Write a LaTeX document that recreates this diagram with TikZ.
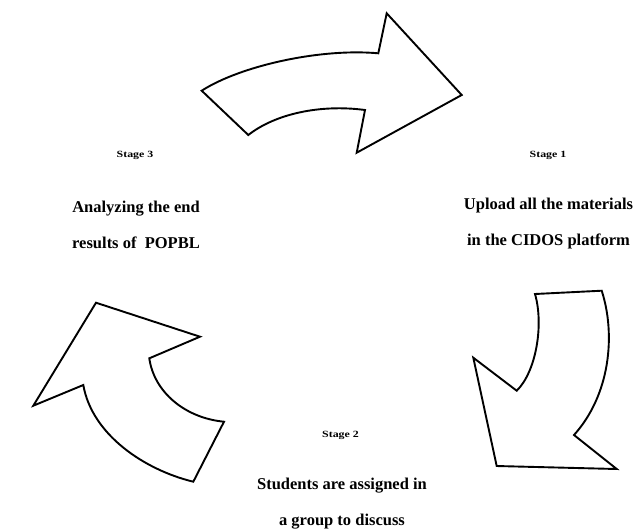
\documentclass[tikz,border=0pt]{standalone}
\usepackage{fontspec}
\setmainfont{Liberation Serif}
\begin{document}
\begin{tikzpicture}[x=1pt,y=-1pt,
  bigarrow/.style={draw=black,fill=white,line width=1.9pt,line join=miter},
  stagelabel/.style={inner sep=0pt,font=\bfseries\fontsize{9.5}{10}\selectfont},
  steptext/.style={inner sep=0pt,align=center,font=\bfseries\fontsize{16.5}{36}\selectfont}]
\useasboundingbox[fill=white] (0,0) rectangle (636,531);
% top arrow
\draw[bigarrow] (201.7,90.7) .. controls (240,66) and (320,48) .. (378.3,53.3)
  -- (386.7,13.3) -- (461.7,95) -- (356.7,152.7) -- (365,110)
  .. controls (320,104) and (275,114) .. (248.3,135) -- cycle;
% right arrow
\draw[bigarrow] (535,294) -- (601.7,290.7)
  .. controls (616,335) and (610,395) .. (574,435)
  -- (616.7,469) -- (496.7,466) -- (473.3,357.7) -- (516.7,390.7)
  .. controls (536,372) and (544,325) .. cycle;
% left arrow
\draw[bigarrow] (96,302.7) -- (200,336.7) -- (149.3,358.3)
  .. controls (154,392) and (185,418) .. (224,421.7)
  -- (193.3,481.7)
  .. controls (145,470) and (92,435) .. (83.3,385)
  -- (33.3,405.7) -- cycle;
% labels
\node[stagelabel] (s3) at (135,155) {\scalebox{1.25}[1]{Stage 3}};
\node[stagelabel] (s1) at (548,155) {\scalebox{1.25}[1]{Stage 1}};
\node[stagelabel] (s2) at (340.5,435) {\scalebox{1.25}[1]{Stage 2}};
\node[steptext] (t3) at (136,224.7) {Analyzing the end\\results of\ \ POPBL};
\node[steptext] (t1) at (548.5,223.3) {Upload all the materials\\in the CIDOS platform};
\node[steptext] (t2) at (342,503.3) {Students are assigned in\\a group to discuss};
\end{tikzpicture}
\end{document}
